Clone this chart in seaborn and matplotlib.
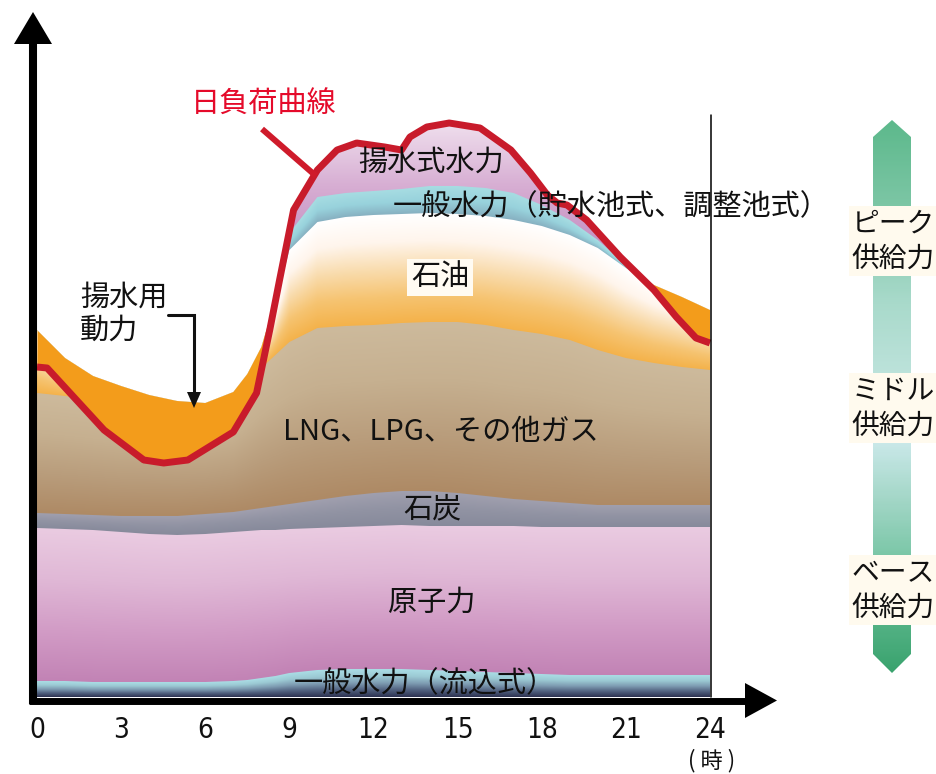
import numpy as np
import matplotlib
matplotlib.use("Agg")
import matplotlib.pyplot as plt
import seaborn as sns
from matplotlib.colors import LinearSegmentedColormap
from matplotlib.patches import Polygon

# =========================================================
# DATA (relative output, arbitrary units)
# =========================================================
hours = [0, 1, 2, 3, 4, 5, 6, 7, 7.5, 8, 8.5, 9, 10, 11, 12, 13, 14, 15, 16,
         17, 18, 19, 20, 21, 22, 23, 24]

hydro_run = [3.2, 3.2, 3.0, 3.0, 3.0, 3.0, 3.0, 3.2, 3.4, 3.8, 4.2, 4.8, 5.4,
             5.6, 5.6, 5.6, 5.4, 5.2, 5.0, 4.8, 4.6, 4.4, 4.4, 4.4, 4.4, 4.4, 4.4]
nuclear = [30.6, 30.4, 30.4, 30.0, 29.6, 29.4, 29.6, 29.8, 29.8, 29.6, 29.2, 28.8,
           28.4, 28.4, 28.6, 28.8, 28.8, 29.0, 29.2, 29.4, 29.4, 29.6, 29.6, 29.6,
           29.6, 29.6, 29.6]
coal = [3.0, 3.0, 3.0, 3.2, 3.6, 3.8, 4.0, 4.0, 4.2, 4.4, 4.8, 5.0, 5.6, 6.2,
        6.6, 6.8, 7.0, 6.6, 6.0, 5.4, 5.2, 4.8, 4.4, 4.4, 4.4, 4.4, 4.4]
gas = [24.0, 23.6, 23.0, 22.4, 22.0, 21.6, 21.2, 22.4, 25.0, 28.0, 30.2, 32.4,
       34.4, 34.0, 33.6, 33.6, 33.8, 34.2, 34.2, 33.8, 33.4, 32.6, 31.0, 29.4,
       28.4, 27.6, 27.0]
oil = [12.6, 7.6, 4.8, 3.6, 2.2, 1.4, 1.0, 1.6, 2.2, 4.2, 10.0, 18.4, 21.2, 21.8,
       22.0, 21.8, 21.8, 21.6, 21.8, 22.0, 21.6, 21.0, 20.4, 18.0, 15.6, 14.0, 12.0]
hydro_res = [0, 0, 0, 0, 0, 0, 0, 0, 0, 0, 1.0, 3.4, 5.0, 4.8, 4.8, 5.0, 5.4,
             5.6, 5.6, 5.4, 4.2, 3.0, 1.6, 0.6, 0, 0, 0]

demand_hours = [0, 0.36, 2.39, 3.81, 4.52, 5.38, 7.0, 7.83, 8.30, 8.65, 9.15,
                10.0, 10.7, 11.4, 12.4, 13.0, 13.3, 13.9, 14.7, 15.8, 16.9,
                17.6, 18.2, 18.55, 18.9, 19.6, 20.8, 22.0, 22.8, 23.5, 24.0]
demand = [66.0, 65.8, 53.4, 47.4, 46.8, 47.4, 53.0, 60.8, 73.4, 83.4, 97.4,
          105.4, 109.4, 110.8, 110.0, 109.4, 112.0, 114.0, 114.8, 113.8, 109.4,
          104.8, 100.4, 98.8, 98.4, 95.4, 88.0, 81.4, 76.0, 71.8, 70.8]

tick_hours = [0, 3, 6, 9, 12, 15, 18, 21, 24]

# =========================================================
# STYLE
# =========================================================
sns.set_theme(style="white")
plt.rcParams["font.family"] = ["Noto Sans CJK JP", "DejaVu Sans"]

# pixel helpers for the decorations (not data)
S = 673 / 24


def hx(px):
    return (px - 37) / S


def vy(py):
    return (697 - py) / 5


def grad_fill(ax, x, lo, hi, clip_lo, colors, z):
    # vertical gradient, normalised inside each column of the band
    x = np.asarray(x, float)
    xs = np.linspace(x[0], x[-1], 700)
    l = np.interp(xs, x, lo)
    h = np.interp(xs, x, hi)
    y0, y1 = min(np.min(clip_lo), np.min(lo)), np.max(hi)
    ys = np.linspace(y0, y1, 500)
    t = np.clip((ys[:, None] - l[None, :]) / np.maximum(h - l, 1e-3)[None, :], 0, 1)
    clip = ax.fill_between(x, clip_lo, hi, facecolor="none", edgecolor="none", lw=0)
    im = ax.imshow(t, extent=(x[0], x[-1], y0, y1), origin="lower", aspect="auto",
                   cmap=LinearSegmentedColormap.from_list("g", colors),
                   vmin=0, vmax=1, interpolation="bilinear", zorder=z)
    im.set_clip_path(clip.get_paths()[0], ax.transData)


fig = plt.figure(figsize=(9.36, 7.74), dpi=100)
ax = fig.add_axes([0, 0, 1, 1])

# =========================================================
# STACKED SUPPLY
# =========================================================
x = np.array(hours, float)
layers = [
    (hydro_run, ["#2C3150", "#50607E", "#7E9CB2", "#9CCAD4", "#AADDE5"]),
    (nuclear, ["#C283B5", "#D29CC6", "#E0B8D6", "#EACBE1"]),
    (coal, ["#878A9B", "#9193A3", "#A09FAE"]),
    (gas, ["#AE8A65", "#B99D7C", "#C6B090", "#CDBA9C"]),
    (oil, ["#F4B24A", "#F6C472", "#F9DCAE", "#FFF5EC", "#FFFFFF"]),
    (hydro_res, ["#86AFC0", "#98D2DC", "#A6DCE2"]),
]
tops = np.cumsum(np.vstack([np.array(v, float) for v, _ in layers]), axis=0)
bottoms = np.vstack([np.zeros(len(x)), tops[:-1]])
n = len(layers)
for i, (_, cols) in enumerate(layers):
    grad_fill(ax, x, bottoms[i], tops[i], np.zeros(len(x)), cols, 2 + (n - i) * 0.01)

# pumped-storage generation (between supply and demand, daytime)
dx = np.array(demand_hours, float)
dy = np.array(demand, float)
clip_d = ax.fill_between(dx, 0, dy, facecolor="none", edgecolor="none", lw=0)
pur = ax.imshow(np.linspace(0, 1, 300)[:, None], extent=(0, 24, 88, 116.5),
                origin="lower", aspect="auto", interpolation="bilinear",
                cmap=LinearSegmentedColormap.from_list("p", ["#C38ABE", "#D7AED3", "#F3E6F1"]),
                zorder=1.9)
pur.set_clip_path(clip_d.get_paths()[0], ax.transData)

# pumping power (supply above demand)
supply = ax.fill_between(x, 0, tops[-1], facecolor="none", edgecolor="none", lw=0)
pump = ax.fill_between(dx, dy, vy(0), color="#F39C1B", lw=0, zorder=3)
pump.set_clip_path(supply.get_paths()[0], ax.transData)

# daily load curve
sns.lineplot(x=demand_hours, y=demand, color="#C81B2B", linewidth=5,
             ax=ax, zorder=5, solid_joinstyle="round", solid_capstyle="butt")

# =========================================================
# AXES ARROWS
# =========================================================
ax.plot([hx(33), hx(33)], [vy(704), vy(42)], color="black", lw=5.8,
        solid_capstyle="butt", zorder=6)
ax.add_patch(Polygon([(hx(14), vy(44)), (hx(33), vy(12)), (hx(52), vy(44))],
                     closed=True, fc="black", ec="none", zorder=6))
ax.plot([hx(29), hx(750)], [vy(700.5), vy(700.5)], color="black", lw=5,
        solid_capstyle="butt", zorder=6)
ax.add_patch(Polygon([(hx(745), vy(683)), (hx(777), vy(700.5)), (hx(745), vy(718))],
                     closed=True, fc="black", ec="none", zorder=6))
ax.plot([hx(711), hx(711)], [vy(697), vy(115)], color="black", lw=1.1, zorder=6)

for h in tick_hours:
    ax.text(h, vy(730), str(h), ha="center", va="center", fontsize=20,
            family=["DejaVu Sans"], fontstretch="condensed", color="#111111")
ax.text(hx(712), vy(761), "( 時 )", ha="center", va="center", fontsize=16, color="#111111")

# =========================================================
# LABELS
# =========================================================
tk = dict(fontsize=21, color="#111111", zorder=7)
ax.text(hx(264), vy(105), "日負荷曲線", ha="center", va="center", fontsize=21,
        color="#E50A2A", zorder=7)
ax.plot([hx(262), hx(316)], [vy(129), vy(176)], color="#CF1B2B", lw=4.3,
        solid_capstyle="butt", zorder=5)
ax.text(hx(431), vy(163), "揚水式水力", ha="center", va="center", **tk)
ax.text(hx(393), vy(207), "一般水力（貯水池式、調整池式）", ha="left", va="center", **tk)
ax.text(hx(440), vy(277), "石油", ha="center", va="center",
        bbox=dict(boxstyle="square,pad=0.12", fc="#FFFBF2", ec="none"), **tk)
ax.text(hx(80), vy(314), "揚水用\n動力", ha="left", va="center", linespacing=1.15, **tk)
ax.plot([hx(168), hx(194), hx(194)], [vy(315), vy(315), vy(395)], color="#111111",
        lw=2.2, solid_joinstyle="miter", zorder=7)
ax.add_patch(Polygon([(hx(187), vy(392)), (hx(194), vy(408)), (hx(201), vy(392))],
                     closed=True, fc="#111111", ec="none", zorder=7))
ax.text(hx(441), vy(432), "LNG、LPG、その他ガス", ha="center", va="center", **tk)
ax.text(hx(432), vy(509), "石炭", ha="center", va="center", **tk)
ax.text(hx(432), vy(603), "原子力", ha="center", va="center", **tk)
ax.text(hx(425), vy(684), "一般水力（流込式）", ha="center", va="center", **tk)

# =========================================================
# RIGHT-HAND SUPPLY BAR
# =========================================================
bar = Polygon([(hx(873), vy(137)), (hx(892), vy(120)), (hx(911), vy(137)),
               (hx(911), vy(654)), (hx(892), vy(673)), (hx(873), vy(654))],
              closed=True, fc="none", ec="none")
ax.add_patch(bar)
gcm = LinearSegmentedColormap.from_list("gr", [
    (0.0, "#5DB98C"), (0.15, "#7CC6A5"), (0.33, "#A9DACB"), (0.47, "#BEE3DC"),
    (0.58, "#CBE9EA"), (0.69, "#A2D6C6"), (0.82, "#6FC29E"), (1.0, "#3AA36E")])
gim = ax.imshow(np.linspace(0, 1, 300)[:, None], extent=(hx(873), hx(911), vy(673), vy(120)),
                origin="upper", aspect="auto", cmap=gcm, interpolation="bilinear", zorder=2)
gim.set_clip_path(bar)

side = dict(ha="center", va="center", fontsize=20, color="#111111", linespacing=1.2,
            bbox=dict(boxstyle="square,pad=0.1", fc="#FFFAEE", ec="none"), zorder=7)
ax.text(hx(893), vy(241), "ピーク\n供給力", **side)
ax.text(hx(893), vy(408), "ミドル\n供給力", **side)
ax.text(hx(893), vy(590), "ベース\n供給力", **side)

ax.set_xlim(hx(0), hx(936))
ax.set_ylim(vy(774), vy(0))
ax.axis("off")

plt.savefig("out.png", dpi=100)
